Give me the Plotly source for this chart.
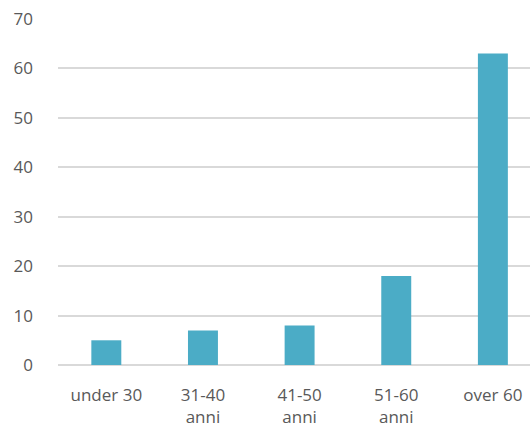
import plotly.graph_objects as go

categories = ["under 30", "31-40<br>anni", "41-50<br>anni", "51-60<br>anni", "over 60"]
values = [5, 7, 8, 18, 63]
y_ticks = [0, 10, 20, 30, 40, 50, 60, 70]

fig = go.Figure(
    go.Bar(
        x=list(range(len(categories))),
        y=values,
        marker=dict(color="#4BACC6", line=dict(width=0)),
        hoverinfo="skip",
    )
)

fig.update_layout(
    width=530,
    height=430,
    margin=dict(l=58, r=0, t=19, b=65),
    paper_bgcolor="white",
    plot_bgcolor="white",
    bargap=0.69,
    showlegend=False,
    font=dict(family="Open Sans", size=17, color="#595959"),
)

fig.update_xaxes(
    tickmode="array",
    tickvals=list(range(len(categories))),
    ticktext=categories,
    range=[-0.5, 4.384],
    showgrid=False,
    zeroline=False,
    showline=False,
    ticks="",
    ticklabelstandoff=18,
    fixedrange=True,
)

fig.update_yaxes(
    range=[0, 70],
    tickvals=y_ticks,
    showgrid=True,
    gridcolor="#D9D9D9",
    gridwidth=2,
    zeroline=True,
    zerolinecolor="#D9D9D9",
    zerolinewidth=2,
    showline=False,
    ticks="",
    ticklabelstandoff=24,
    fixedrange=True,
)

fig.write_html("out.html", config={"displayModeBar": False})
